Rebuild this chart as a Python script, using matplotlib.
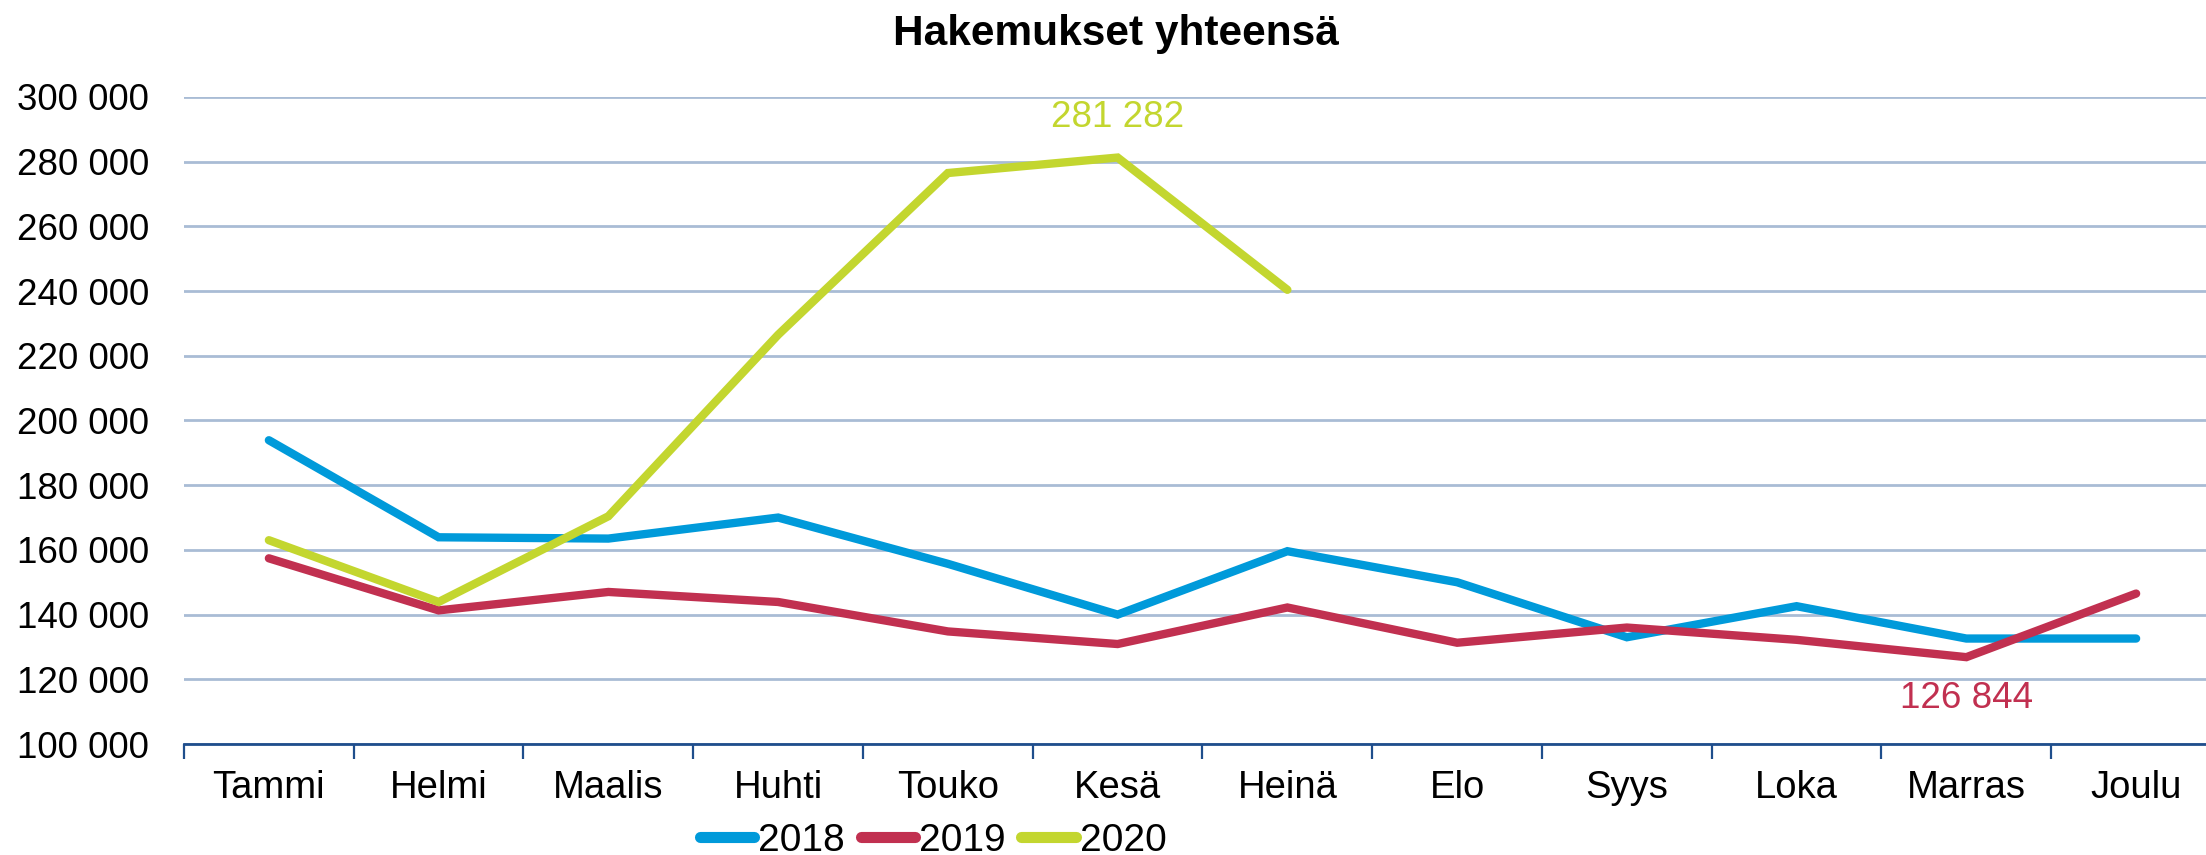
import matplotlib
matplotlib.use("Agg")
import matplotlib.pyplot as plt
from matplotlib.ticker import FixedLocator, FuncFormatter

months = ["Tammi", "Helmi", "Maalis", "Huhti", "Touko", "Kesä", "Heinä",
          "Elo", "Syys", "Loka", "Marras", "Joulu"]
v2018 = [193900, 163900, 163500, 170000, 155700, 140000, 159600,
         150000, 133000, 142600, 132600, 132600]
v2019 = [157400, 141300, 147000, 143900, 134800, 130900, 142200,
         131300, 136000, 132200, 126844, 146500]
v2020 = [163000, 143900, 170400, 226500, 276500, 281282, 240400]
yticks = [100000, 120000, 140000, 160000, 180000, 200000, 220000,
          240000, 260000, 280000, 300000]

c18, c19, c20 = "#009ADA", "#C13050", "#C3D62F"

plt.rcParams['font.family'] = ['Liberation Sans', 'DejaVu Sans']
fig = plt.figure(figsize=(22.06, 8.55), dpi=100)
ax = fig.add_axes([184/2206, 1-744/855, 2037/2206, (744-97)/855])

x = list(range(len(months)))
kw = dict(lw=6, solid_joinstyle='miter', solid_capstyle='round', zorder=3)
ax.plot(x, v2018, color=c18, label="2018", **kw)
ax.plot(x, v2019, color=c19, label="2019", **kw)
ax.plot(x[:len(v2020)], v2020, color=c20, label="2020", **kw)

ax.set_xlim(-0.5, 11.5)
ax.set_ylim(100000, 300000)
ax.set_yticks(yticks)
ax.yaxis.set_major_formatter(FuncFormatter(lambda v, p: f"{int(v):,}".replace(",", " ")))
ax.grid(axis='y', color="#A9BCD5", lw=2, zorder=0)
ax.set_xticks(x)
ax.set_xticklabels(months)
ax.xaxis.set_minor_locator(FixedLocator([i - 0.5 for i in range(13)]))
ax.tick_params(axis='x', which='major', length=0, pad=19, labelsize=27.5)
ax.tick_params(axis='x', which='minor', length=11, width=1.6, color="#1F4E8C", direction='out')
ax.tick_params(axis='y', length=0, pad=25, labelsize=26.5)
for s in ['top', 'right', 'left']:
    ax.spines[s].set_visible(False)
ax.spines['bottom'].set_color("#1F4E8C")
ax.spines['bottom'].set_linewidth(2)

ax.annotate("281 282", (5, v2020[5]), xytext=(0, 29), textcoords='offset points',
            ha='center', va='center', color=c20, fontsize=26.5)
ax.annotate("126 844", (10, v2019[10]), xytext=(0, -29.5), textcoords='offset points',
            ha='center', va='center', color=c19, fontsize=26.5)

fig.text(0.506, 1-34/855, "Hakemukset yhteensä", ha='center', va='center',
         fontsize=30.5, fontweight='bold')

leg = fig.legend(loc='center', bbox_to_anchor=(0.423, 1-841/855), ncol=3, frameon=False,
                 fontsize=28, handlelength=1.4, handletextpad=0.1, columnspacing=0.4,
                 borderpad=0)
for h in leg.get_lines():
    h.set_linewidth(8)
    h.set_solid_capstyle('round')

fig.savefig("out.png", dpi=100)
